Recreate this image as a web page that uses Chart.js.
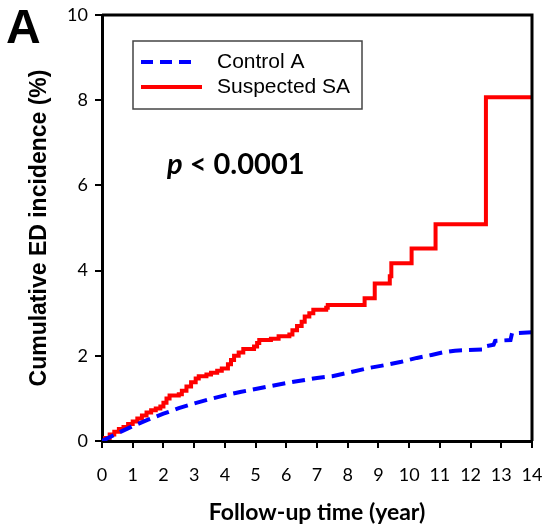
<!DOCTYPE html>
<html>
<head>
<meta charset="utf-8">
<script src="https://cdn.jsdelivr.net/npm/chart.js@4.4.1/dist/chart.umd.min.js"></script>
<style>
  html, body { margin: 0; padding: 0; background: #fff; }
  #wrap { width: 543px; height: 531px; position: relative; }
</style>
</head>
<body>
<div id="wrap"><canvas id="chart"></canvas></div>
<script>
// follow-up time (year), cumulative incidence (%)
const controlYears = [0, 0.5, 1, 1.5, 2, 2.5, 3, 3.5, 4, 4.5, 5, 5.5, 6, 6.5, 7, 7.5, 8, 8.66, 9.2, 9.75, 10.25, 10.73, 11.1, 11.49, 12.4, 12.45, 12.75, 12.8, 13.3, 13.35, 14];
const controlValues = [0, 0.18, 0.35, 0.5, 0.64, 0.77, 0.88, 0.98, 1.07, 1.15, 1.22, 1.29, 1.36, 1.42, 1.48, 1.52, 1.6, 1.71, 1.78, 1.86, 1.95, 2.02, 2.08, 2.12, 2.15, 2.22, 2.26, 2.35, 2.37, 2.53, 2.55];

const saYears = [0, 0.1, 0.25, 0.4, 0.55, 0.7, 0.85, 1.0, 1.15, 1.3, 1.45, 1.6, 1.75, 1.9, 2.0, 2.1, 2.2, 2.5, 2.6, 2.75, 2.9, 3.05, 3.15, 3.4, 3.55, 3.75, 3.9, 4.1, 4.2, 4.3, 4.45, 4.6, 4.95, 5.05, 5.12, 5.5, 5.75, 6.1, 6.2, 6.35, 6.5, 6.6, 6.75, 6.88, 7.3, 7.35, 8.55, 8.88, 9.37, 9.42, 10.08, 10.86, 12.5, 14];
const saValues = [0, 0.07, 0.15, 0.22, 0.28, 0.33, 0.4, 0.46, 0.53, 0.6, 0.67, 0.72, 0.76, 0.81, 0.9, 1.0, 1.07, 1.1, 1.18, 1.28, 1.38, 1.47, 1.52, 1.56, 1.6, 1.65, 1.7, 1.8, 1.9, 2.0, 2.08, 2.16, 2.22, 2.3, 2.37, 2.4, 2.46, 2.5, 2.6, 2.7, 2.8, 2.92, 3.0, 3.08, 3.13, 3.19, 3.35, 3.7, 3.87, 4.17, 4.52, 5.09, 8.07, 8.07];

const seriesNames = ['Control A', 'Suspected SA'];
const xTicks = [0, 1, 2, 3, 4, 5, 6, 7, 8, 9, 10, 11, 12, 13, 14];
const yTicks = [0, 2, 4, 6, 8, 10];

const toPoints = (xs, ys) => xs.map((x, i) => ({ x: x, y: ys[i] }));

// frame, panel letter, legend box, p value
const extras = {
  id: 'extras',
  afterDraw(chart) {
    const { ctx, chartArea: a } = chart;
    ctx.save();

    ctx.strokeStyle = '#000';
    ctx.lineWidth = 3;
    ctx.beginPath();
    ctx.moveTo(a.left, a.top);
    ctx.lineTo(a.right, a.top);
    ctx.lineTo(a.right, a.bottom);
    ctx.stroke();

    ctx.fillStyle = '#000';
    ctx.font = 'bold 48px "Liberation Sans"';
    ctx.textBaseline = 'alphabetic';
    ctx.textAlign = 'left';
    ctx.fillText('A', 6, 43);

    // legend
    ctx.lineWidth = 1.5;
    ctx.strokeStyle = '#444';
    ctx.strokeRect(133, 41, 229, 68);
    ctx.lineWidth = 4;
    ctx.strokeStyle = '#0000ff';
    ctx.setLineDash([12, 7]);
    ctx.beginPath(); ctx.moveTo(141, 62); ctx.lineTo(196, 62); ctx.stroke();
    ctx.setLineDash([]);
    ctx.strokeStyle = '#ff0000';
    ctx.beginPath(); ctx.moveTo(141, 87); ctx.lineTo(202, 87); ctx.stroke();
    ctx.font = '21px "Liberation Sans"';
    ctx.textBaseline = 'middle';
    ctx.fillText(seriesNames[0], 217, 62);
    ctx.fillText(seriesNames[1], 217, 87);

    // p value
    ctx.textBaseline = 'alphabetic';
    ctx.font = 'italic bold 29px Lato';
    ctx.fillText('p', 167, 174);
    const pw = ctx.measureText('p').width;
    ctx.font = 'bold 29px Lato';
    ctx.fillText(' < 0.0001', 167 + pw, 174);
    ctx.restore();
  }
};

new Chart(document.getElementById('chart').getContext('2d'), {
  type: 'line',
  data: {
    datasets: [
      {
        label: seriesNames[0],
        data: toPoints(controlYears, controlValues),
        borderColor: '#0000ff',
        borderWidth: 4,
        borderDash: [13, 7],
        pointRadius: 0,
        tension: 0
      },
      {
        label: seriesNames[1],
        data: toPoints(saYears, saValues),
        borderColor: '#ff0000',
        borderWidth: 4,
        stepped: true,
        pointRadius: 0
      }
    ]
  },
  options: {
    responsive: true,
    maintainAspectRatio: false,
    animation: false,
    layout: { padding: { top: 15, right: 11, left: 0, bottom: 0 } },
    plugins: {
      legend: { display: false },
      tooltip: { enabled: false }
    },
    scales: {
      x: {
        type: 'linear',
        min: 0,
        max: 14,
        afterFit: (s) => { s.height = 90; s.paddingLeft = 0; s.paddingRight = 0; },
        afterBuildTicks: (s) => { s.ticks = xTicks.map(v => ({ value: v })); },
        grid: { drawOnChartArea: false, drawTicks: true, tickLength: 7, color: '#000', lineWidth: 2 },
        border: { display: true, color: '#000', width: 3 },
        ticks: { color: '#000', font: { family: 'Lato', size: 18 }, padding: 16, maxRotation: 0 },
        title: {
          display: true,
          text: 'Follow-up time (year)',
          color: '#000',
          font: { family: 'Lato', size: 23, weight: 'bold', lineHeight: 1.2 },
          padding: { top: 0, bottom: 5 }
        }
      },
      y: {
        min: 0,
        max: 10,
        afterFit: (s) => { s.width = 102; s.paddingTop = 0; s.paddingBottom = 0; },
        afterBuildTicks: (s) => { s.ticks = yTicks.map(v => ({ value: v })); },
        grid: { drawOnChartArea: false, drawTicks: true, tickLength: 7, color: '#000', lineWidth: 2 },
        border: { display: true, color: '#000', width: 3 },
        ticks: { color: '#000', font: { family: 'Lato', size: 18 }, padding: 7 },
        title: {
          display: true,
          text: 'Cumulative ED incidence (%)',
          color: '#000',
          font: { family: '"Liberation Sans", Arial, sans-serif', size: 23, weight: 'bold', lineHeight: 1.2 },
          padding: { top: 26, bottom: 0 }
        }
      }
    }
  },
  plugins: [extras]
});
</script>
</body>
</html>
